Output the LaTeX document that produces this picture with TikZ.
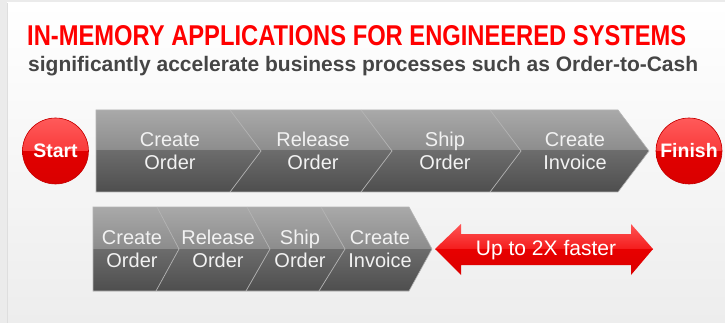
\documentclass[tikz,border=0pt]{standalone}
\usepackage{fontspec}
\setmainfont{Liberation Sans}
\usepackage{graphicx}
\definecolor{titlered}{HTML}{FF0000}
\definecolor{subgray}{HTML}{454545}
\definecolor{chA}{HTML}{A9A9A9}
\definecolor{chB}{HTML}{8C8C8C}
\definecolor{chC}{HTML}{6C6C6C}
\definecolor{chD}{HTML}{4E4E4E}
\definecolor{chLine}{HTML}{B4B4B4}
\definecolor{chText}{HTML}{F2F2F2}
\definecolor{rA}{HTML}{FF5A5A}
\definecolor{rB}{HTML}{F41C1C}
\definecolor{rC}{HTML}{E80000}
\definecolor{rD}{HTML}{DA0000}
\definecolor{rRim}{HTML}{C40000}
\definecolor{bgOuter}{HTML}{EBEBEB}
\definecolor{bgBottom}{HTML}{EDEDED}
\tikzset{
  steptext/.style={text=chText, align=center, font=\fontsize{20}{23}\selectfont, inner sep=0pt},
  redball/.style={circle, minimum size=66pt, inner sep=0pt, draw=rRim, line width=0.6pt,
    bottom color=rD, top color=rC, text=white, font=\fontsize{19.5}{20}\selectfont\bfseries,
    path picture={\shade[top color=rA, bottom color=rB]
      (path picture bounding box.north west) rectangle (path picture bounding box.east);}},
  sepline/.style={draw=chLine, line width=0.7pt}
}
\begin{document}
\begin{tikzpicture}[x=1pt,y=-1pt]
\useasboundingbox (0,0) rectangle (725,323);
% background
\fill[bgOuter] (0,0) rectangle (725,323);
\shade[top color=white, bottom color=bgBottom] (7,3) rectangle (725,323);
\draw[draw=black!13, line width=0.6pt] (7,3) -- (7,323);

% titles
\node[anchor=base west, inner sep=0pt, text=titlered] (title) at (27,46)
  {\resizebox{659pt}{20pt}{\bfseries IN-MEMORY APPLICATIONS FOR ENGINEERED SYSTEMS}};
\node[anchor=base west, inner sep=0pt, text=subgray] (subtitle) at (28,72)
  {\resizebox{670pt}{!}{\fontsize{20}{20}\selectfont\bfseries significantly accelerate business processes such as Order-to-Cash}};

% top chevron row
\begin{scope}
  \clip (96,110) -- (618,110) -- (649,151) -- (618,192) -- (96,192) -- cycle;
  \shade[top color=chA, bottom color=chB] (96,110) rectangle (650,151);
  \shade[top color=chC, bottom color=chD] (96,151) rectangle (650,192);
\end{scope}
\draw[draw=chLine, line width=0.6pt] (96,110) -- (618,110) -- (649,151) -- (618,192) -- (96,192) -- cycle;
\draw[sepline] (230,110) -- (261,151) -- (230,192);
\draw[sepline] (361,110) -- (392,151) -- (361,192);
\draw[sepline] (490,110) -- (521,151) -- (490,192);

\node[steptext] (t1) at (170,151) {Create\\Order};
\node[steptext] (t2) at (313,151) {Release\\Order};
\node[steptext] (t3) at (445,151) {Ship\\Order};
\node[steptext] (t4) at (575,151) {Create\\Invoice};

\node[redball] (start) at (55.5,151) {Start};
\node[redball] (finish) at (689,151) {Finish};

% bottom chevron row
\begin{scope}
  \clip (93,207) -- (409,207) -- (432,249) -- (409,291) -- (93,291) -- cycle;
  \shade[top color=chA, bottom color=chB] (93,207) rectangle (433,249);
  \shade[top color=chC, bottom color=chD] (93,249) rectangle (433,291);
\end{scope}
\draw[draw=chLine, line width=0.6pt] (93,207) -- (409,207) -- (432,249) -- (409,291) -- (93,291) -- cycle;
\draw[sepline] (157,207) -- (179,249) -- (156,291);
\draw[sepline] (247,207) -- (270,249) -- (246,291);
\draw[sepline] (321,207) -- (345,249) -- (319,291);

\node[steptext] (b1) at (132,249) {Create\\Order};
\node[steptext] (b2) at (218,249) {Release\\Order};
\node[steptext] (b3) at (300,249) {Ship\\Order};
\node[steptext] (b4) at (380,249) {Create\\Invoice};

% red double arrow
\begin{scope}
  \clip (435,249) -- (461,224) -- (461,234) -- (631,234) -- (631,224) -- (653,249)
        -- (631,275) -- (631,265) -- (461,265) -- (461,275) -- cycle;
  \shade[top color=rA, bottom color=rB] (430,222) rectangle (655,249);
  \shade[top color=rC, bottom color=rD] (430,249) rectangle (655,277);
\end{scope}
\node[text=white, inner sep=0pt, font=\fontsize{21}{21}\selectfont] (faster) at (546,250) {Up to 2X faster};
\end{tikzpicture}
\end{document}
